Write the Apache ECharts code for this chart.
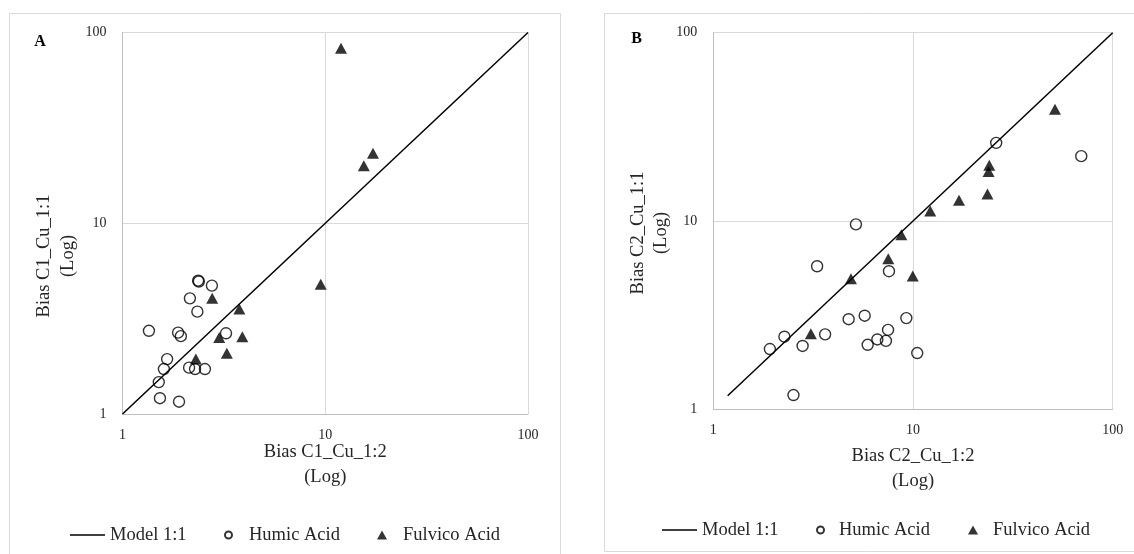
<!DOCTYPE html>
<html>
<head>
<meta charset="utf-8">
<script src="https://cdn.jsdelivr.net/npm/echarts@6/dist/echarts.min.js"></script>
<style>
html,body{margin:0;padding:0;background:#fff;}
#chart{width:1134px;height:554px;}
</style>
</head>
<body>
<div id="chart"></div>
<script>
// ---- Data ----
var axisTicks = ['1', '10', '100'];
var seriesNames = ['Model 1:1', 'Humic Acid', 'Fulvico Acid'];

// Panel A
var modelA_x = [1, 100];
var modelA_y = [1, 100];
var humicA_x = [2.36, 2.38, 2.76, 2.15, 2.34, 1.35, 1.88, 1.94, 3.24, 1.66, 1.60, 2.13, 2.28, 2.55, 1.51, 1.53, 1.90];
var humicA_y = [5.00, 4.95, 4.71, 4.04, 3.44, 2.73, 2.67, 2.56, 2.65, 1.94, 1.72, 1.75, 1.72, 1.72, 1.47, 1.21, 1.16];
var fulvicA_x = [2.77, 3.77, 3.00, 3.90, 3.27, 2.30, 11.96, 17.2, 15.5, 9.50];
var fulvicA_y = [4.04, 3.55, 2.52, 2.54, 2.08, 1.94, 82.6, 23.3, 20.0, 4.79];

// Panel B
var modelB_x = [1.18, 100];
var modelB_y = [1.18, 100];
var humicB_x = [5.18, 3.31, 7.58, 4.76, 5.73, 9.26, 7.50, 6.63, 7.32, 5.93, 3.63, 2.80, 2.27, 1.92, 10.5, 2.52, 26.1, 69.6];
var humicB_y = [9.60, 5.75, 5.41, 3.01, 3.14, 3.05, 2.64, 2.35, 2.31, 2.20, 2.50, 2.17, 2.43, 2.09, 1.99, 1.19, 26.0, 22.1];
var fulvicB_x = [4.89, 7.52, 9.97, 8.74, 3.08, 12.2, 17.0, 23.6, 23.9, 24.1, 51.4];
var fulvicB_y = [4.94, 6.31, 5.10, 8.46, 2.52, 11.3, 12.9, 13.9, 18.3, 19.8, 39.2];

// ---- Helpers ----
function zip(xs, ys) { return xs.map(function (x, i) { return [x, ys[i]]; }); }
var FONT = 'Liberation Serif';
var TXT = '#262626';
var TITLE_SIZE = 18.5;

function tickFmt(v) { var s = String(Math.round(v)); return axisTicks.indexOf(s) >= 0 ? s : ''; }
function mkX(grid, name, gap) {
  return {
    type: 'log', logBase: 10, min: 1, max: 100, gridIndex: grid,
    axisLine: { show: true, onZero: false, lineStyle: { color: '#bfbfbf', width: 1 } },
    axisTick: { show: false },
    splitLine: { show: true, lineStyle: { color: '#d9d9d9', width: 1 } },
    axisLabel: { margin: 14, fontSize: 14, fontFamily: FONT, color: TXT, formatter: tickFmt },
    name: name, nameLocation: 'middle', nameGap: gap, nameMoveOverlap: false,
    nameTextStyle: { fontSize: TITLE_SIZE, lineHeight: 25, fontFamily: FONT, color: TXT }
  };
}
function mkY(grid) {
  return {
    type: 'log', logBase: 10, min: 1, max: 100, gridIndex: grid,
    axisLine: { show: true, onZero: false, lineStyle: { color: '#bfbfbf', width: 1 } },
    axisTick: { show: false },
    splitLine: { show: true, lineStyle: { color: '#d9d9d9', width: 1 } },
    axisLabel: { margin: 16, fontSize: 14, fontFamily: FONT, color: TXT, formatter: tickFmt }
  };
}
function lineSeries(idx, xs, ys) {
  return { name: seriesNames[0], type: 'line', xAxisIndex: idx, yAxisIndex: idx,
    data: zip(xs, ys), symbol: 'none', z: 3,
    lineStyle: { color: '#000', width: 1.5 }, itemStyle: { color: '#000' } };
}
function humicSeries(idx, xs, ys) {
  return { name: seriesNames[1], type: 'scatter', xAxisIndex: idx, yAxisIndex: idx,
    data: zip(xs, ys), symbol: 'circle', symbolSize: 11, z: 2,
    itemStyle: { color: 'rgba(255,255,255,0)', borderColor: '#000', borderWidth: 1.4 } };
}
function fulvicSeries(idx, xs, ys) {
  return { name: seriesNames[2], type: 'scatter', xAxisIndex: idx, yAxisIndex: idx,
    data: zip(xs, ys), symbol: 'triangle', symbolSize: [12, 11], z: 4,
    itemStyle: { color: '#000' } };
}
function mkLegend(item, left, top, w, h, padLeft) {
  return {
    data: [item], left: left, top: top, padding: 0, orient: 'horizontal',
    itemWidth: w, itemHeight: h, selectedMode: false,
    textStyle: { fontSize: TITLE_SIZE, fontFamily: FONT, color: TXT, lineHeight: 20, padding: [0, 0, 0, padLeft] }
  };
}

var chart = echarts.init(document.getElementById('chart'), null, { renderer: 'canvas' });
chart.setOption({
  animation: false,
  backgroundColor: '#fff',
  grid: [
    { left: 122.5, top: 32.5, width: 405.5, height: 381.5 },
    { left: 713.3, top: 32.7, width: 399.4, height: 376.6 }
  ],
  xAxis: [mkX(0, 'Bias C1_Cu_1:2\n(Log)', 25.5), mkX(1, 'Bias C2_Cu_1:2\n(Log)', 34)],
  yAxis: [mkY(0), mkY(1)],
  legend: [
    mkLegend({ name: seriesNames[0], icon: 'rect' }, 70, 525, 35, 1.5, 0),
    mkLegend(seriesNames[1], 224, 525, 7, 7, 12),
    mkLegend(seriesNames[2], 377, 525, 10, 9, 11),
    mkLegend({ name: seriesNames[0], icon: 'rect' }, 662, 520, 35, 1.5, 0),
    mkLegend(seriesNames[1], 816, 520, 7, 7, 10),
    mkLegend(seriesNames[2], 968, 520, 10, 9, 10)
  ],
  series: [
    lineSeries(0, modelA_x, modelA_y),
    humicSeries(0, humicA_x, humicA_y),
    fulvicSeries(0, fulvicA_x, fulvicA_y),
    lineSeries(1, modelB_x, modelB_y),
    humicSeries(1, humicB_x, humicB_y),
    fulvicSeries(1, fulvicB_x, fulvicB_y)
  ],
  graphic: [
    { type: 'rect', silent: true, z: -10, shape: { x: 9.5, y: 13.5, width: 551, height: 560 },
      style: { fill: 'none', stroke: '#d9d9d9', lineWidth: 1 } },
    { type: 'rect', silent: true, z: -10, shape: { x: 604.5, y: 13.5, width: 540, height: 538 },
      style: { fill: 'none', stroke: '#d9d9d9', lineWidth: 1 } },
    { type: 'text', x: 40, y: 42, silent: true,
      style: { text: 'A', fontSize: 16, fontWeight: 'bold', fontFamily: FONT, fill: '#000', align: 'center', verticalAlign: 'middle' } },
    { type: 'text', x: 636.5, y: 39, silent: true,
      style: { text: 'B', fontSize: 16, fontWeight: 'bold', fontFamily: FONT, fill: '#000', align: 'center', verticalAlign: 'middle' } },
    { type: 'text', x: 56, y: 256, rotation: Math.PI / 2, silent: true,
      style: { text: 'Bias C1_Cu_1:1\n(Log)', fontSize: TITLE_SIZE, lineHeight: 24, fontFamily: FONT, fill: TXT, align: 'center', verticalAlign: 'middle' } },
    { type: 'text', x: 650, y: 233, rotation: Math.PI / 2, silent: true,
      style: { text: 'Bias C2_Cu_1:1\n(Log)', fontSize: TITLE_SIZE, lineHeight: 23, fontFamily: FONT, fill: TXT, align: 'center', verticalAlign: 'middle' } }
  ]
});
</script>
</body>
</html>
